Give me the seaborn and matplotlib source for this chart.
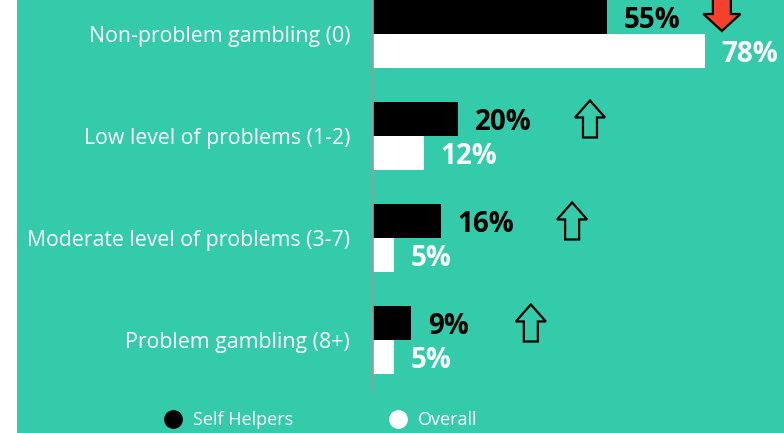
import matplotlib
matplotlib.use("Agg")
import matplotlib.pyplot as plt
import matplotlib.transforms as mtransforms
from matplotlib.patches import Rectangle, Polygon
from matplotlib.lines import Line2D
import seaborn as sns
import pandas as pd

categories = ["Non-problem gambling (0)", "Low level of problems (1-2)",
              "Moderate level of problems (3-7)", "Problem gambling (8+)"]
self_helpers = [55, 20, 16, 9]
overall = [78, 12, 5, 5]
series_names = ["Self Helpers", "Overall"]
# change arrows (direction per category) and their x positions in value units
arrow_dirs = ["down", "up", "up", "up"]
arrow_x = [82, 51, 46.8, 37.1]

TEAL = "#33CBA9"
RED = "#F4402C"

df = pd.DataFrame({
    "category": categories * 2,
    "value": self_helpers + overall,
    "group": [series_names[0]] * 4 + [series_names[1]] * 4,
})

sns.set_style("white")
plt.rcParams["font.family"] = ["Open Sans", "DejaVu Sans"]

fig = plt.figure(figsize=(7.84, 4.33), dpi=100)
fig.patch.set_facecolor("white")
fig.patches.append(Rectangle((17 / 784, 0), 1 - 17 / 784, 1, transform=fig.transFigure,
                             facecolor=TEAL, edgecolor="none", zorder=-10))

ax = fig.add_axes([373 / 784, 42 / 433, 1 - 373 / 784, 408 / 433])
ax.set_facecolor("none")

sns.barplot(data=df, y="category", x="value", hue="group", order=categories,
            hue_order=series_names, palette=["black", "white"], saturation=1,
            width=0.667, gap=0, orient="h", ax=ax, legend=False, linewidth=0)

ax.set_xlim(0, 96.6)
ax.set_ylim(3.5, -0.5)
ax.set_xlabel("")
ax.set_ylabel("")
ax.set_xticks([])
for s in ["top", "right", "bottom"]:
    ax.spines[s].set_visible(False)
ax.spines["left"].set_color("#9a9a9a")
ax.spines["left"].set_linewidth(1.2)
ax.set_yticks(range(len(categories)))
ax.set_yticklabels(categories, color="white", fontsize=15.3)
ax.set_yticks([i - 0.5 for i in range(len(categories) + 1)], minor=True)
ax.tick_params(axis="y", which="major", length=0, pad=16.5)
ax.tick_params(axis="y", which="minor", length=5.5, color="#9a9a9a", width=1.2)

label_colors = ["black", "white"]
for cont, col in zip(ax.containers, label_colors):
    for rect, v in zip(cont.patches, cont.datavalues):
        ax.annotate(f"{v:.0f}%", (rect.get_width(), rect.get_y() + rect.get_height() / 2),
                    xytext=(12, -2.2), textcoords="offset points", ha="left", va="center",
                    color=col, fontsize=20, fontweight="bold")

# arrows
up_pts = [(0, 18.5), (15, 1.5), (7, 1.5), (7, -18.5), (-7, -18.5), (-7, 1.5), (-15, 1.5)]
down_pts = [(0, -14), (18.5, 3), (9, 3), (9, 45), (-9, 45), (-9, 3), (-18.5, 3)]
for i, (d, xv) in enumerate(zip(arrow_dirs, arrow_x)):
    yc = i - 0.667 / 4
    trans = mtransforms.ScaledTranslation(xv, yc, ax.transData)
    tr = mtransforms.Affine2D() + trans
    if d == "up":
        p = Polygon(up_pts, closed=True, facecolor="none", edgecolor="black",
                    linewidth=1.6, transform=tr, clip_on=False, joinstyle="miter")
    else:
        p = Polygon(down_pts, closed=True, facecolor=RED, edgecolor="black",
                    linewidth=1.6, transform=tr, clip_on=False, joinstyle="miter")
    ax.add_patch(p)

handles = [Line2D([], [], marker="o", linestyle="none", markersize=12.5,
                  markerfacecolor=c, markeredgecolor=c) for c in ["black", "white"]]
fig.legend(handles, series_names, loc="center left", bbox_to_anchor=(164 / 784, 13 / 433),
           ncol=2, frameon=False, fontsize=13, labelcolor="white", handlelength=1,
           handletextpad=0.6, columnspacing=5.3, borderpad=0, borderaxespad=0)

fig.savefig("out.png", dpi=100, facecolor=fig.get_facecolor())
